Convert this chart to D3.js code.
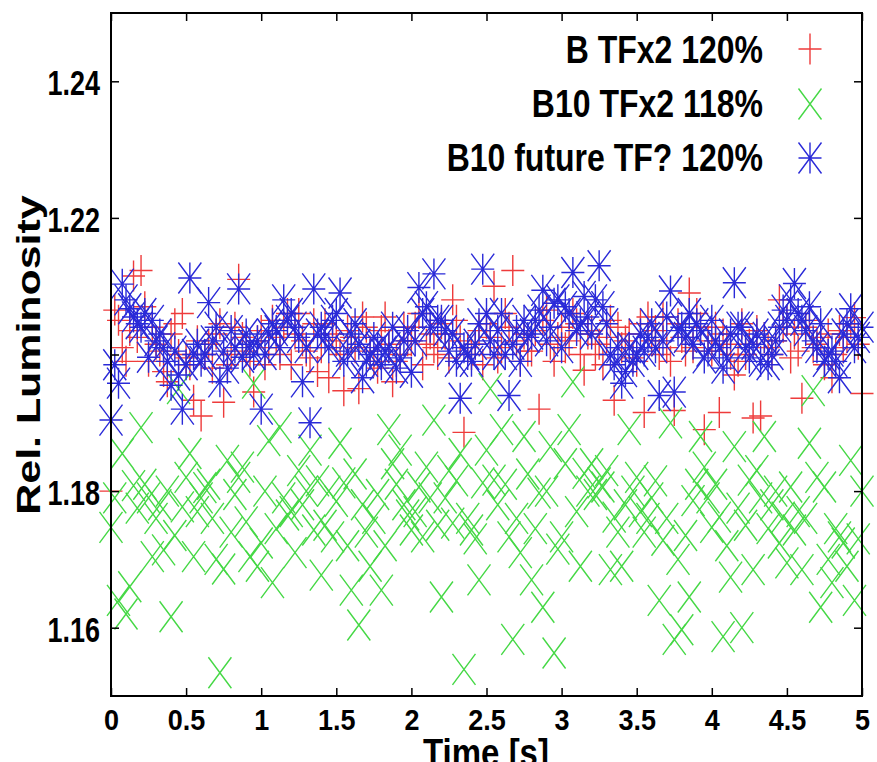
<!DOCTYPE html>
<html>
<head>
<meta charset="utf-8">
<script src="https://cdn.jsdelivr.net/npm/d3@7"></script>
<style>
  html, body { margin: 0; padding: 0; background: #fff; }
  svg { display: block; }
  text { font-family: "Liberation Sans", Arial, Helvetica, sans-serif; font-weight: bold; fill: #000; }
</style>
</head>
<body>
<svg id="chart" width="877" height="762"></svg>
<script>
// ---------------- data ----------------
const seriesNames = ["B TFx2 120%", "B10 TFx2 118%", "B10 future TF? 120%"];
const sampleStep = 0.025; // seconds between samples

const redValues = [
  1.1800, 1.2065, 1.2050, 1.2010, 1.1990, 1.2035, 1.2115, 1.2025,
  1.2123, 1.2070, 1.1990, 1.2040, 1.2015, 1.2005, 1.1975, 1.1960,
  1.2030, 1.2045, 1.2000, 1.2060, 1.1995, 1.1985, 1.1933, 1.2020,
  1.1910, 1.2000, 1.2015, 1.1980, 1.2030, 1.2045, 1.1930, 1.1985,
  1.2000, 1.2040, 1.2110, 1.2025, 1.2005, 1.1990, 1.1945, 1.2020,
  1.2035, 1.1985, 1.2010, 1.2050, 1.2025, 1.2000, 1.2040, 1.2060,
  1.1985, 1.2030, 1.2060, 1.2020, 1.2005, 1.1995, 1.2045, 1.1975,
  1.2010, 1.2045, 1.1966, 1.2030, 1.2020, 1.2000, 1.1947, 1.2035,
  1.2025, 1.2010, 1.1950, 1.2055, 1.2040, 1.2005, 1.1990, 1.1980,
  1.2035, 1.2055, 1.2015, 1.1960, 1.1990, 1.2000, 1.2040, 1.2020,
  1.2020, 1.2040, 1.2060, 1.1985, 1.2015, 1.2030, 1.2010, 1.2000,
  1.2045, 1.2030, 1.1995, 1.2080, 1.2050, 1.2020, 1.1886, 1.2010,
  1.2000, 1.2015, 1.2035, 1.1985, 1.2045, 1.2025, 1.2100, 1.1995,
  1.2010, 1.2060, 1.2040, 1.2123, 1.2020, 1.1990, 1.2030, 1.2005,
  1.2005, 1.2035, 1.1920, 1.2050, 1.2065, 1.2015, 1.1990, 1.2025,
  1.2040, 1.2010, 1.2020, 1.2060, 1.2045, 1.2000, 1.1977, 1.2030,
  1.2035, 1.2000, 1.2015, 1.1985, 1.2025, 1.2050, 1.1933, 1.2040,
  1.2010, 1.2020, 1.2030, 1.1995, 1.1990, 1.2045, 1.1915, 1.2055,
  1.2020, 1.2035, 1.2000, 1.2055, 1.2010, 1.1990, 1.1918, 1.2045,
  1.2025, 1.2005, 1.2090, 1.2010, 1.2060, 1.2040, 1.1890, 1.2020,
  1.2005, 1.2040, 1.1915, 1.2030, 1.2015, 1.2000, 1.1970, 1.1990,
  1.2045, 1.2000, 1.2015, 1.1907, 1.2035, 1.1910, 1.2025, 1.2010,
  1.2000, 1.2020, 1.2080, 1.2040, 1.2050, 1.1995, 1.2030, 1.2005,
  1.1936, 1.2040, 1.2050, 1.2010, 1.2015, 1.2025, 1.1985, 1.2030,
  1.1966, 1.2000, 1.2035, 1.2010, 1.2025, 1.2045, 1.2054, 1.2015,
  1.1943
];

const greenValues = [
  1.1747, 1.1790, 1.1640, 1.1855, 1.1620, 1.1660, 1.1808, 1.1775,
  1.1893, 1.1810, 1.1790, 1.1704, 1.1760, 1.1780, 1.1714, 1.1800,
  1.1616, 1.1735, 1.1950, 1.1777, 1.1820, 1.1855, 1.1704, 1.1770,
  1.1790, 1.1805, 1.1810, 1.1760, 1.1700, 1.1534, 1.1686, 1.1845,
  1.1740, 1.1795, 1.1820, 1.1835, 1.1755, 1.1704, 1.1958, 1.1690,
  1.1724, 1.1800, 1.1874, 1.1666, 1.1745, 1.1893, 1.1790, 1.1765,
  1.1770, 1.1710, 1.1830, 1.1780, 1.1800, 1.1860, 1.1743, 1.1815,
  1.1677, 1.1750, 1.1800, 1.1733, 1.1785, 1.1870, 1.1812, 1.1720,
  1.1655, 1.1825, 1.1604, 1.1780, 1.1740, 1.1690, 1.1760, 1.1795,
  1.1655, 1.1720, 1.1890, 1.1840, 1.1810, 1.1860, 1.1780, 1.1765,
  1.1743, 1.1770, 1.1806, 1.1733, 1.1835, 1.1790, 1.1904, 1.1750,
  1.1645, 1.1790, 1.1830, 1.1753, 1.1815, 1.1855, 1.1539, 1.1760,
  1.1743, 1.1730, 1.1670, 1.1812, 1.1860, 1.1950, 1.1816, 1.1780,
  1.1890, 1.1810, 1.1733, 1.1583, 1.1760, 1.1710, 1.1880, 1.1825,
  1.1670, 1.1745, 1.1797, 1.1630, 1.1800, 1.1865, 1.1563, 1.1715,
  1.1733, 1.1840, 1.1890, 1.1960, 1.1770, 1.1690, 1.1826, 1.1800,
  1.1840, 1.1795, 1.1812, 1.1806, 1.1830, 1.1685, 1.1762, 1.1740,
  1.1690, 1.1780, 1.1890, 1.1800, 1.1820, 1.1770, 1.1740, 1.1760,
  1.1790, 1.1815, 1.1640, 1.1728, 1.1760, 1.1900, 1.1583, 1.1700,
  1.1597, 1.1735, 1.1645, 1.1786, 1.1810, 1.1880, 1.1835, 1.1790,
  1.1747, 1.1810, 1.1762, 1.1587, 1.1720, 1.1674, 1.1865, 1.1775,
  1.1600, 1.1750, 1.1816, 1.1685, 1.1830, 1.1790, 1.1880, 1.1745,
  1.1780, 1.1800, 1.1724, 1.1762, 1.1695, 1.1806, 1.1743, 1.1770,
  1.1685, 1.1760, 1.1870, 1.1947, 1.1820, 1.1630, 1.1806, 1.1700,
  1.1666, 1.1745, 1.1733, 1.1724, 1.1690, 1.1845, 1.1640, 1.1730,
  1.1800
];

const blueValues = [
  1.1904, 1.1985, 1.1958, 1.2103, 1.2080, 1.2067, 1.2055, 1.2045,
  1.2040, 1.2060, 1.1996, 1.2050, 1.2020, 1.2030, 1.2010, 1.1990,
  1.1955, 1.2005, 1.1970, 1.1920, 1.1985, 1.2112, 1.2000, 1.2015,
  1.1990, 1.2000, 1.2076, 1.2020, 1.2040, 1.1960, 1.2005, 1.1980,
  1.2035, 1.2010, 1.2096, 1.1996, 1.2030, 1.2015, 1.2000, 1.2020,
  1.1920, 1.2000, 1.2030, 1.2045, 1.2035, 1.2010, 1.2080, 1.2050,
  1.2060, 1.2040, 1.2025, 1.1960, 1.2010, 1.1900, 1.2096, 1.2030,
  1.2040, 1.2025, 1.2010, 1.2050, 1.2060, 1.2090, 1.1990, 1.2005,
  1.2030, 1.2045, 1.2015, 1.1966, 1.1990, 1.2000, 1.2025, 1.2010,
  1.1985, 1.2005, 1.2010, 1.2040, 1.1980, 1.1995, 1.2020, 1.2035,
  1.1974, 1.2020, 1.2098, 1.2060, 1.2070, 1.2040, 1.2118, 1.2050,
  1.2050, 1.2035, 1.2005, 1.2030, 1.1990, 1.1936, 1.2010, 1.2000,
  1.1990, 1.2015, 1.2045, 1.2125, 1.2060, 1.2020, 1.2000, 1.2035,
  1.2060, 1.2000, 1.1940, 1.2015, 1.2035, 1.1990, 1.2050, 1.2025,
  1.2030, 1.2050, 1.2065, 1.2094, 1.2020, 1.2040, 1.2075, 1.2080,
  1.2010, 1.2070, 1.2060, 1.2120, 1.2035, 1.2045, 1.2085, 1.2055,
  1.2030, 1.2080, 1.2130, 1.2070, 1.2045, 1.2000, 1.1985, 1.2010,
  1.1958, 1.1975, 1.2010, 1.1990, 1.2000, 1.2030, 1.2005, 1.2025,
  1.2045, 1.2010, 1.1940, 1.2020, 1.2055, 1.2093, 1.1945, 1.2035,
  1.2040, 1.2025, 1.2060, 1.2015, 1.2045, 1.2035, 1.1995, 1.2005,
  1.2050, 1.2020, 1.2010, 1.1980, 1.1995, 1.2030, 1.2105, 1.2040,
  1.2040, 1.2010, 1.1995, 1.2015, 1.2030, 1.1990, 1.2025, 1.1985,
  1.2000, 1.2020, 1.2040, 1.2065, 1.2050, 1.2080, 1.2104, 1.2060,
  1.2050, 1.2035, 1.2070, 1.2020, 1.2010, 1.2045, 1.1990, 1.2000,
  1.2005, 1.1990, 1.1966, 1.2030, 1.2045, 1.2067, 1.2010, 1.2025,
  1.2040
];

const xTickValues = [0, 0.5, 1, 1.5, 2, 2.5, 3, 3.5, 4, 4.5, 5];
const xTickLabels = ["0", "0.5", "1", "1.5", "2", "2.5", "3", "3.5", "4", "4.5", "5"];
const yTickValues = [1.16, 1.18, 1.20, 1.22, 1.24];
const yTickLabels = ["1.16", "1.18", "", "1.22", "1.24"];

// ---------------- layout ----------------
const L = 111, R = 862, T = 13, B = 696;
const svg = d3.select("#chart");

const x = d3.scaleLinear().domain([0, 5]).range([L, R]);
const y = d3.scaleLinear().domain([1.15, 1.25]).range([B, T]);

const colors = ["#ee3b3b", "#45d845", "#2a2ad8"];
const markerTypes = ["plus", "cross", "star"];
const HW = 11.5, HH = 15.5;

function markerPath(type) {
  const plus = `M${-HW},0H${HW}M0,${-HH}V${HH}`;
  const cross = `M${-HW},${-HH}L${HW},${HH}M${-HW},${HH}L${HW},${-HH}`;
  if (type === "plus") return plus;
  if (type === "cross") return cross;
  return plus + cross;
}

const seriesData = [redValues, greenValues, blueValues].map(vals =>
  vals.map((v, i) => ({ t: i * sampleStep, v }))
);

// ---------------- points ----------------
const plot = svg.append("g");
seriesData.forEach((pts, si) => {
  plot.append("g")
    .selectAll("path")
    .data(pts)
    .join("path")
    .attr("transform", d => `translate(${x(d.t)},${y(d.v)})`)
    .attr("d", markerPath(markerTypes[si]))
    .attr("fill", "none")
    .attr("stroke", colors[si])
    .attr("stroke-width", 1.4);
});

// ---------------- axes ----------------
const tickLen = 8;
const fmtX = d => xTickLabels[xTickValues.indexOf(d)];
const fmtY = d => yTickLabels[yTickValues.findIndex(v => Math.abs(v - d) < 1e-9)];

const gx = svg.append("g").attr("transform", `translate(0,${B})`)
  .call(d3.axisBottom(x).tickValues(xTickValues).tickSize(-tickLen).tickFormat(fmtX));
const gxt = svg.append("g").attr("transform", `translate(0,${T})`)
  .call(d3.axisTop(x).tickValues(xTickValues).tickSize(-tickLen).tickFormat(""));
const gy = svg.append("g").attr("transform", `translate(${L},0)`)
  .call(d3.axisLeft(y).tickValues(yTickValues).tickSize(-tickLen).tickFormat(fmtY));
const gyr = svg.append("g").attr("transform", `translate(${R},0)`)
  .call(d3.axisRight(y).tickValues(yTickValues).tickSize(-tickLen).tickFormat(""));

[gx, gxt, gy, gyr].forEach(g => {
  g.select(".domain").remove();
  g.selectAll(".tick line").attr("stroke", "#000").attr("stroke-width", 1.5);
});

gx.selectAll(".tick text")
  .attr("y", 0).attr("dy", null)
  .attr("transform", "translate(0,34) scale(1,1.12)")
  .attr("font-size", 27)
  .attr("font-family", '"Liberation Sans", Arial, sans-serif')
  .attr("font-weight", "bold")
  .attr("fill", "#000");

gy.selectAll(".tick text")
  .attr("x", 0).attr("dy", null)
  .attr("transform", "translate(-11,13.5) scale(1,1.29)")
  .attr("font-size", 27)
  .attr("font-family", '"Liberation Sans", Arial, sans-serif')
  .attr("font-weight", "bold")
  .attr("fill", "#000");

// frame
svg.append("rect")
  .attr("x", L).attr("y", T)
  .attr("width", R - L).attr("height", B - T)
  .attr("fill", "none").attr("stroke", "#000").attr("stroke-width", 2);

// ---------------- axis titles ----------------
svg.append("text")
  .attr("transform", "translate(40,355) rotate(-90) scale(1.3,1)")
  .attr("text-anchor", "middle")
  .attr("font-size", 33)
  .text("Rel. Luminosity");

svg.append("text")
  .attr("transform", "translate(486,766) scale(1,1.2)")
  .attr("text-anchor", "middle")
  .attr("font-size", 33)
  .text("Time [s]");

// ---------------- legend ----------------
const legendBaselines = [63, 117, 171];
const legendMarkerY = [49, 104, 158];
const legend = svg.append("g");
seriesNames.forEach((name, i) => {
  legend.append("text")
    .attr("transform", `translate(763,${legendBaselines[i]}) scale(1,1.2)`)
    .attr("text-anchor", "end")
    .attr("font-size", 32)
    .text(name);
  legend.append("path")
    .attr("transform", `translate(810,${legendMarkerY[i]})`)
    .attr("d", markerPath(markerTypes[i]))
    .attr("fill", "none")
    .attr("stroke", colors[i])
    .attr("stroke-width", 1.4);
});
</script>
</body>
</html>
